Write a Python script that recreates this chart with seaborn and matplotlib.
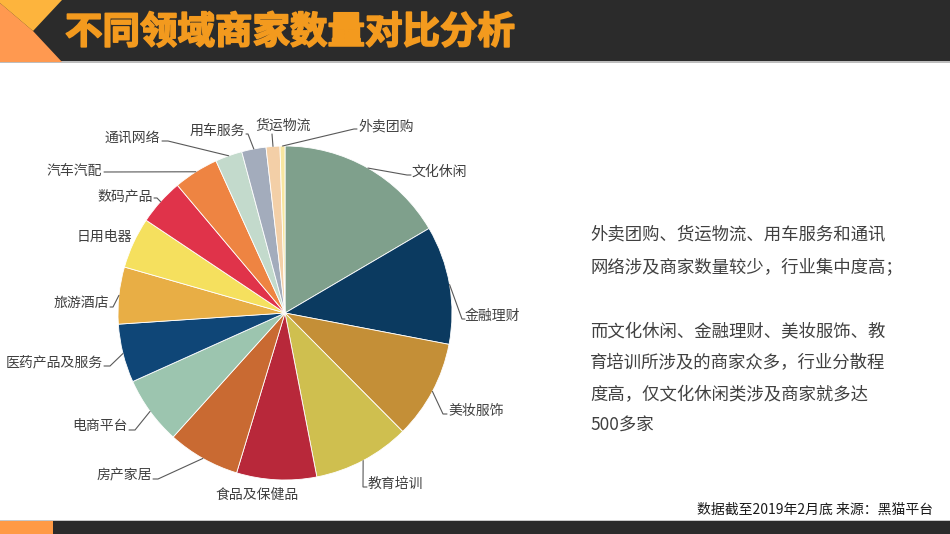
import numpy as np
import matplotlib
matplotlib.use("Agg")
import matplotlib.pyplot as plt
import matplotlib.patheffects as pe
import seaborn as sns
from matplotlib.patches import Polygon, Rectangle

# ------------------------------------------------------------
# data (merchant counts per field)
# ------------------------------------------------------------
categories = ["文化休闲", "金融理财", "美妆服饰", "教育培训", "食品及保健品",
              "房产家居", "电商平台", "医药产品及服务", "旅游酒店", "日用电器",
              "数码产品", "汽车汽配", "通讯网络", "用车服务", "货运物流", "外卖团购"]
counts = [520, 360, 300, 295, 243, 220, 207, 178, 173, 155, 141, 137, 82, 74, 42, 15]
slice_colors = ["#7FA08C", "#0B3A60", "#C48F37", "#CFBF4F", "#B8283A",
                "#C96A32", "#9CC5AF", "#0F4677", "#E8AE45", "#F5E05E",
                "#E0334A", "#EE8442", "#C3DACC", "#A3ACBC", "#F3CFA7", "#F8E6A0"]

title = "不同领域商家数量对比分析"
note_lines = ["外卖团购、货运物流、用车服务和通讯",
              "网络涉及商家数量较少，行业集中度高；",
              "而文化休闲、金融理财、美妆服饰、教",
              "育培训所涉及的商家众多，行业分散程",
              "度高，仅文化休闲类涉及商家就多达",
              "500多家"]
source = "数据截至2019年2月底 来源：黑猫平台"

# label layout in pixels: text anchor (x, y, ha) and elbow of the leader line
label_pos = {
    "文化休闲": (412, 172, "left", [(407, 175), (411, 175)]),
    "金融理财": (465, 316, "left", [(462, 319), (465, 319)]),
    "美妆服饰": (448, 411, "left", [(443, 414), (447, 414)]),
    "教育培训": (368, 484, "left", [(363, 487), (367, 487)]),
    "食品及保健品": (257, 495, "center", None),
    "房产家居": (152, 475, "right", [(158, 479), (153, 479)]),
    "电商平台": (128, 426, "right", [(135, 430), (129, 430)]),
    "医药产品及服务": (103, 362, "right", [(110, 366), (104, 366)]),
    "旅游酒店": (109, 303, "right", [(113, 307), (110, 307)]),
    "日用电器": (132, 237, "right", None),
    "数码产品": (153, 196, "right", [(157, 198), (154, 198)]),
    "汽车汽配": (102, 171, "right", [(104, 172)]),
    "通讯网络": (160, 138, "right", [(168, 141), (162, 141)]),
    "用车服务": (245, 131, "right", [(248, 134), (246, 134)]),
    "货运物流": (283, 126, "center", [(272, 134)]),
    "外卖团购": (358, 126, "left", [(354, 129), (357, 129)]),
}

sns.set_theme(style="white")
plt.rcParams["font.family"] = ["Noto Sans CJK SC", "DejaVu Sans"]

W, H = 950, 534
fig = plt.figure(figsize=(W / 100, H / 100), dpi=100)
fig.patch.set_facecolor("white")

# background layer in pixel coordinates
bg = fig.add_axes([0, 0, 1, 1], zorder=0)
bg.set_xlim(0, W)
bg.set_ylim(H, 0)
bg.axis("off")

# title bar
bg.add_patch(Rectangle((0, 0), W, 62, facecolor="#2B2B2B", edgecolor="none"))
bg.add_patch(Rectangle((0, 61), W, 2, facecolor="#BDBDBD", edgecolor="none"))
bg.add_patch(Polygon([(0, 3), (33, 31), (62, 62), (0, 62)], closed=True,
                     facecolor="#FF9950", edgecolor="none"))
bg.add_patch(Polygon([(0, 0), (62, 0), (33, 31), (0, 3)], closed=True,
                     facecolor="#FDB43D", edgecolor="none"))
bg.text(65, 32, title, fontsize=27, fontweight="bold", color="#F39A1E",
        ha="left", va="center",
        path_effects=[pe.withStroke(linewidth=1.2, foreground="#F39A1E")])

# bottom bar
bg.add_patch(Rectangle((0, 521), W, 13, facecolor="#2B2B2B", edgecolor="none"))
bg.add_patch(Rectangle((0, 521), 53, 13, facecolor="#FF9A45", edgecolor="none"))
bg.add_patch(Rectangle((0, 520), W, 1.2, facecolor="#C8C8C8", edgecolor="none"))

# right-hand note
note_y = [234, 267, 331, 363, 395, 426]
for txt, y in zip(note_lines, note_y):
    bg.text(590, y, txt, fontsize=12.5, color="#404040", ha="left", va="center")

bg.text(933, 510, source, fontsize=10, color="#1A1A1A", ha="right", va="center")

# pie
CX, CY, R = 285, 313, 167
ax = fig.add_axes([(CX - R) / W, (H - CY - R) / H, 2 * R / W, 2 * R / H], zorder=1)
wedges, _ = ax.pie(counts, colors=slice_colors, startangle=90, counterclock=False,
                   radius=1.0, wedgeprops=dict(edgecolor="white", linewidth=0.6))
ax.set_xlim(-1, 1)
ax.set_ylim(-1, 1)
ax.set_aspect("equal")
ax.axis("off")


def to_data(px, py):
    return (px - CX) / R, (CY - py) / R


for w, name in zip(wedges, categories):
    tx, ty, ha, elbow = label_pos[name]
    x, y = to_data(tx, ty)
    ax.text(x, y, name, fontsize=10, color="#404040", ha=ha, va="center",
            clip_on=False)
    if elbow is None:
        continue
    mid = np.deg2rad((w.theta1 + w.theta2) / 2)
    pts = [(np.cos(mid), np.sin(mid))] + [to_data(*p) for p in elbow]
    xs, ys = zip(*pts)
    ax.plot(xs, ys, color="#595959", lw=0.8, clip_on=False, solid_joinstyle="miter")

fig.savefig("out.png", dpi=100)
